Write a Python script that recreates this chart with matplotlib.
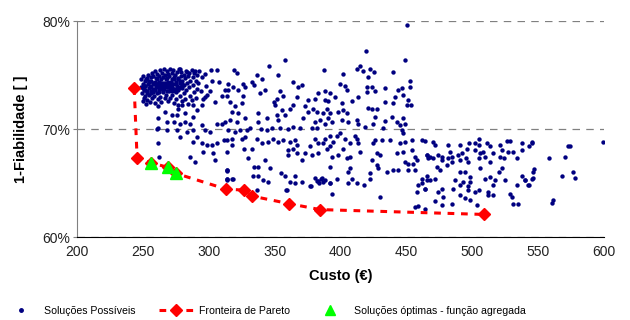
import numpy as np
import matplotlib
matplotlib.use("Agg")
from matplotlib import pyplot as plt
from matplotlib.lines import Line2D
from matplotlib.ticker import FuncFormatter

plt.rcParams['font.family'] = ['Liberation Sans', 'DejaVu Sans']

# Soluções possíveis (custo em €, 1-fiabilidade em %)
nucleo = [
    (249, 74.6), (249, 73.9), (249.5, 73.3), (250, 72.6), (250, 74.9), (250.5, 74.2), (251, 73.6), (251, 72.9),
    (251.5, 74.5), (252, 73.1), (252, 74.0), (252.5, 72.3), (253, 74.7), (253, 73.5), (253.5, 72.7), (254, 74.2),
    (254, 75.0), (254.5, 73.8), (255, 73.2), (255, 74.5), (255.5, 72.5), (256, 74.0), (256, 74.8), (256.5, 73.5),
    (257, 75.2), (257, 72.9), (257.5, 74.3), (258, 73.7), (258, 74.9), (258.5, 73.1), (259, 74.4), (259, 75.4),
    (259.5, 72.4), (260, 73.9), (260, 74.7), (260.5, 73.3), (261, 75.1), (261, 74.2), (261.5, 72.8), (262, 73.6),
    (262, 74.9), (262.5, 74.4), (263, 73.0), (263, 75.5), (263.5, 73.8), (264, 74.6), (264, 72.5), (264.5, 75.2),
    (265, 74.0), (265, 73.4), (265.5, 74.8), (266, 75.6), (266, 73.7), (266.5, 72.9), (267, 74.3), (267, 75.0),
    (267.5, 73.2), (268, 74.7), (268, 75.4), (268.5, 73.9), (269, 72.6), (269, 74.4), (269.5, 75.1), (270, 73.5),
    (270, 74.9), (270.5, 74.1), (271, 75.6), (271, 72.9), (271.5, 73.8), (272, 74.6), (272, 75.2), (272.5, 73.2),
    (273, 74.2), (273, 75.5), (273.5, 72.4), (274, 73.7), (274, 74.8), (274.5, 75.0), (275, 73.4), (275, 74.4),
    (275.5, 72.8), (276, 75.3), (276, 74.0), (276.5, 73.6), (277, 74.7), (277, 72.2), (277.5, 75.6), (278, 73.9),
    (278, 74.3), (278.5, 73.1), (279, 74.9), (279, 75.3), (279.5, 72.6), (280, 73.8), (280, 74.5), (281, 75.0),
    (281, 73.3), (281.5, 74.1), (282, 72.8), (282, 74.7), (283, 75.4), (283, 73.6), (283.5, 74.3), (284, 72.3),
    (284, 74.9), (285, 73.9), (285, 75.2), (286, 74.5), (286, 73.1), (287, 75.5), (287, 72.7), (288, 74.1),
    (288, 74.8), (289, 73.4), (289, 75.2), (290, 74.5), (290, 72.9), (291, 75.0), (291, 73.7), (292, 74.3),
    (293, 75.4), (294, 73.5), (295, 74.8), (296, 72.8), (297, 75.1), (298, 74.0), (299, 73.2),
    (250.5, 73.8), (251.5, 74.0), (252.5, 74.6), (253.5, 73.3), (254.5, 74.4), (255.5, 73.9), (256.5, 74.5),
    (257.5, 73.4), (258.5, 74.2), (259.5, 73.6), (260.5, 74.6), (261.5, 73.9), (262.5, 73.4), (263.5, 74.3),
    (264.5, 73.7), (265.5, 74.3), (266.5, 74.0), (267.5, 74.6), (268.5, 73.5), (269.5, 73.9), (270.5, 73.6),
    (271.5, 74.4), (272.5, 73.9), (273.5, 74.6), (274.5, 73.5), (275.5, 74.2), (276.5, 74.6), (277.5, 73.8),
    (278.5, 74.5), (279.5, 74.0), (252, 73.6), (256, 73.3), (260, 74.2), (264, 74.0), (268, 74.1), (272, 73.5),
    (276, 73.8), (280, 74.2), (262, 74.2), (270, 74.3),
]

zona_250_315 = [
    (278.2, 75.56), (283.3, 75.3), (289.6, 75.4), (301.7, 75.46), (306, 75.46), (302.7, 74.5), (307.8, 74.4),
    (312.3, 73.6), (309.8, 73.1), (304.7, 72.5), (301, 73.5), (297.2, 73.0), (294.6, 72.2), (290.8, 71.8),
    (288.3, 71.1), (261.7, 72.1), (266.8, 71.6), (261.7, 71.0), (271.9, 71.3), (275.6, 71.3), (282, 71.45),
    (273.9, 70.7), (278.2, 70.5), (285.8, 70.5), (261.7, 70.1), (268.1, 69.9), (275.6, 69.9), (283.3, 69.7),
    (278.2, 69.3), (288.3, 69.9), (290.8, 69.3), (288.3, 68.8), (294.6, 70.4), (297.2, 69.9), (294.6, 68.7),
    (298.4, 68.5), (295.9, 67.9), (302.2, 68.5), (306, 68.7), (303.4, 67.75), (304.7, 67.1), (261.7, 68.7),
    (262.2, 67.4), (285.8, 67.4), (289.6, 67.0), (301, 69.75), (306, 70.5), (309.8, 70.5), (312.3, 70.7),
    (311.8, 69.0), (313.6, 66.2), (313.6, 65.4), (268.1, 70.7), (276.9, 71.9), (279.5, 72.2), (288.3, 72.2),
    (282, 70.7), (260.9, 70.0), (314, 66.1), (318.2, 65.4), (313.6, 65.3),
]

zona_315_390 = [
    (357.9, 76.4), (345.7, 75.8), (319.4, 75.5), (321.7, 75.2), (336.4, 75.0), (352.8, 75.0), (387.5, 75.5),
    (340.6, 74.6), (332.6, 74.4), (364.2, 74.4), (371, 74.1), (368, 73.9), (334.6, 74.1), (327.5, 73.9),
    (342.7, 73.6), (338.9, 73.3), (354.1, 73.5), (351.6, 72.8), (356.6, 73.1), (366.7, 73.0), (375.5, 72.7),
    (383.1, 73.3), (388.2, 73.5), (380.6, 72.8), (388.2, 72.7), (364.2, 72.2), (373, 72.1), (361.7, 71.9),
    (355.4, 71.8), (350.3, 72.2), (349.5, 72.5), (337.6, 71.5), (344, 71.0), (351.6, 71.3), (352.8, 70.8),
    (357.9, 71.3), (379.4, 71.9), (381.9, 71.6), (386.9, 71.5), (389.5, 71.9), (375.1, 71.6), (371.8, 71.0),
    (380.6, 70.7), (384.4, 70.8), (388.2, 70.5), (378.1, 70.1), (381.9, 70.1), (369.3, 70.1), (364.2, 70.2),
    (360.4, 70.0), (354.1, 70.1), (347.8, 70.1), (344, 69.9), (339.7, 70.0), (331.3, 70.1), (328.8, 69.9),
    (337.6, 70.7), (327.5, 71.0), (322.4, 71.5), (317.4, 71.6), (319.9, 72.1), (316.1, 72.5), (325, 72.4),
    (326.2, 73.1), (313.6, 73.1), (314.8, 73.6), (322.4, 73.6), (318.6, 73.9), (326.2, 74.2), (314.8, 74.2),
    (316.1, 70.8), (321.2, 70.7), (314.8, 69.9), (319.9, 69.75), (323.7, 69.9), (317.4, 69.1), (325, 69.1),
    (327.5, 69.3), (313.6, 69.0), (317.4, 68.5), (313.6, 67.9), (327, 68.2), (336.4, 69.1), (340.2, 68.7),
    (332.6, 68.2), (345.2, 68.8), (349, 69.1), (352.8, 68.8), (356.6, 69.0), (361.7, 68.8), (365.5, 69.0),
    (366.7, 68.5), (360.4, 68.1), (364.2, 68.2), (366.7, 67.75), (360.4, 67.6), (373, 67.75), (376.8, 68.4),
    (383.1, 68.7), (386.9, 68.7), (380.6, 69.1), (388.2, 69.1), (378.1, 67.6), (383.1, 67.75), (370.5, 67.1),
    (330, 67.3), (342.7, 67.1), (337.6, 66.5), (334.6, 66.5), (346.5, 66.4), (333.8, 65.7), (337.6, 65.7),
    (354.8, 65.9), (357.9, 65.7), (365.5, 65.7), (341.4, 65.3), (345.2, 65.1), (361.7, 65.1), (365.5, 65.0),
    (370.5, 65.1), (376.8, 64.7), (359.2, 64.4), (336.4, 64.35), (313.6, 66.2), (317.4, 65.4), (313.6, 65.4),
    (381, 65.5), (383, 65.2), (385, 65.4), (387, 65.1), (384, 65.0), (382, 65.2), (386, 65.5), (388, 65.3),
    (392, 65.0), (377.3, 64.7), (358.6, 64.4),
]

zona_390_465 = [
    (450.2, 79.6), (419.1, 77.2), (449, 76.4), (412.3, 75.6), (414.8, 75.8), (422.4, 75.6), (425.7, 75.3),
    (421.1, 74.8), (416.8, 75.4), (402.1, 75.1), (440.1, 75.25), (452.8, 74.5), (399.6, 74.2), (403.4, 74.0),
    (404.7, 73.6), (419.9, 73.9), (423.7, 73.9), (433.8, 73.8), (443.3, 73.6), (446.9, 73.8), (452.8, 73.9),
    (447.2, 73.2), (426.2, 73.5), (419.9, 73.4), (392, 73.3), (395.8, 73.0), (413.5, 73.0), (441.4, 73.0),
    (451.5, 72.7), (390.7, 72.6), (408.5, 72.6), (433.8, 72.5), (440.1, 72.4), (450.2, 72.2), (453.5, 72.2),
    (400.9, 72.4), (421.1, 72.0), (423.7, 71.9), (427.5, 71.9), (398.3, 71.6), (402.1, 71.8), (404.7, 71.5),
    (392, 71.5), (390.7, 71.0), (426.2, 71.1), (438.9, 71.1), (447.7, 71.0), (400.9, 70.8), (405.9, 70.7),
    (412.3, 70.8), (413.5, 70.5), (393.3, 70.7), (433.8, 70.75), (442.6, 70.7), (445.2, 70.4), (449, 70.5),
    (424.9, 70.5), (418.6, 70.2), (432.5, 70.1), (446.4, 69.9), (447.7, 69.6), (399.6, 69.6), (397.1, 69.4),
    (392, 69.4), (411, 69.4), (412.3, 69.1), (403.4, 69.1), (394.5, 68.8), (407.2, 68.7), (413.5, 68.7),
    (426.2, 69.0), (424.9, 68.7), (431.2, 69.0), (437.6, 69.0), (445.2, 68.7), (449, 68.8), (454, 69.0),
    (461.6, 69.0), (464.1, 68.9), (392, 68.4), (389.5, 68.2), (402.1, 68.2), (414.8, 67.9), (427.5, 67.75),
    (430, 67.6), (442.6, 67.75), (447.7, 67.9), (454, 68.1), (456.5, 67.4), (457.8, 67.1), (465.3, 67.6),
    (466.6, 67.3), (393.3, 67.4), (398.3, 67.6), (404.7, 67.3), (407.2, 67.4), (423.7, 67.1), (427.5, 66.7),
    (428.8, 66.4), (449, 67.0), (451.5, 66.8), (455.3, 66.8), (443.9, 66.2), (440.1, 66.2), (435.1, 66.05),
    (392, 66.5), (407.2, 66.4), (405.9, 66.05), (422.4, 65.9), (451.5, 66.2), (456.5, 66.2), (461.6, 65.4),
    (465.3, 65.3), (397.1, 65.4), (408.5, 65.4), (422.4, 65.4), (405.9, 65.0), (412.3, 65.0), (418, 64.8),
    (392, 65.0), (459, 64.8), (461.6, 65.0), (464.1, 64.5), (457.8, 64.2), (393.3, 64.0), (430, 63.7),
    (456.5, 62.8), (459, 62.9), (464.1, 62.65),
]

zona_465_600 = [
    (470.4, 68.8), (471.7, 68.5), (465.3, 67.6), (467.9, 67.4), (470.4, 67.3), (474.2, 67.6), (476.8, 67.4),
    (476.8, 67.1), (473, 66.5), (475.5, 66.2), (465.3, 65.7), (467.9, 65.3), (471.7, 65.4), (464.1, 64.5),
    (474.2, 64.2), (476.8, 64.5), (478, 63.7), (471.7, 63.3), (476.8, 63.0), (481.8, 68.5), (483.1, 67.9),
    (484.4, 67.4), (481.8, 67.3), (484.4, 67.0), (480.6, 66.7), (490.7, 68.5), (489.4, 67.6), (490.7, 67.1),
    (491.9, 67.75), (495.7, 68.2), (495.2, 67.3), (497, 67.0), (497.8, 68.7), (502.1, 68.7), (502.1, 68.1),
    (504.7, 68.5), (505.4, 69.1), (505.9, 67.75), (504.7, 67.3), (508.4, 67.9), (511, 68.7), (513.5, 68.4),
    (509.7, 67.4), (516, 67.75), (513.5, 67.0), (521.1, 68.5), (522.4, 68.1), (521.1, 67.4), (523.7, 67.3),
    (526.2, 68.9), (528.7, 68.9), (527.4, 67.9), (531.1, 67.9), (533.7, 67.3), (537.5, 68.7), (537.5, 68.1),
    (542.6, 68.4), (494.5, 66.05), (490.7, 66.05), (498.3, 65.6), (493.2, 65.1), (498.3, 65.1), (497, 64.7),
    (497, 64.35), (490.7, 64.8), (486.9, 65.3), (485.6, 64.5), (490.7, 63.9), (494.5, 63.6), (498.3, 63.4),
    (484.4, 63.1), (502.1, 64.2), (504.7, 64.35), (503.4, 63.0), (509.7, 65.4), (513.5, 65.6), (512.2, 64.2),
    (512.2, 63.9), (516, 63.9), (516, 64.8), (517.3, 65.3), (519.9, 66.05), (522.4, 66.4), (524.9, 65.3),
    (528.7, 64.0), (530, 63.7), (531.1, 63.1), (534.9, 63.1), (533.7, 64.8), (537.5, 65.7), (540, 65.3),
    (542.6, 64.8), (505.9, 66.4), (545.6, 68.8), (545.1, 68.7), (572.9, 68.4), (574.2, 68.4), (599, 68.8),
    (558.3, 67.3), (570.4, 67.4), (547.1, 66.3), (546.3, 66.05), (576.7, 66.05), (567.7, 65.7), (578, 65.5),
    (546.3, 65.5), (545.1, 65.4), (540, 65.3), (542, 64.8), (561.5, 63.4), (560.2, 63.2),
]

# Fronteira de Pareto
pareto_custo = [243.5, 245.7, 255.9, 269.3, 275.1, 313.1, 326.8, 332.8, 360.9, 384.4, 509.1]
pareto_fiab = [73.8, 67.3, 66.9, 66.45, 65.9, 64.45, 64.35, 63.8, 63.1, 62.55, 62.1]

# Soluções óptimas - função agregada
agregada_custo = [255.9, 269.3, 275.1]
agregada_fiab = [66.9, 66.45, 65.9]

possiveis = np.array(nucleo + zona_250_315 + zona_315_390 + zona_390_465 + zona_465_600)

fig = plt.figure(figsize=(6.3, 3.2), dpi=100)
ax = fig.add_axes([0.122, 0.259, 0.837, 0.675])

ax.scatter(possiveis[:, 0], possiveis[:, 1], s=10, color='#000080', linewidths=0, zorder=2)
ax.plot(pareto_custo, pareto_fiab, color='#FF0000', linestyle=(0, (2.2, 2.2)), linewidth=2.2,
        marker='D', markersize=6.5, zorder=3)
ax.plot(agregada_custo, agregada_fiab, linestyle='none', marker='^', color='#00FF00',
        markersize=8, zorder=4)

ax.set_xlim(200, 600)
ax.set_ylim(60, 80)
ax.set_xticks(np.arange(200, 601, 50))
ax.set_yticks([60, 70, 80])
ax.yaxis.set_major_formatter(FuncFormatter(lambda v, p: '%d%%' % v))
ax.grid(axis='y', color='#808080', linestyle=(0, (6, 5)), linewidth=0.9)
ax.set_axisbelow(True)

for s in ['top', 'right']:
    ax.spines[s].set_visible(False)
ax.spines['left'].set_color('#808080')
ax.spines['bottom'].set_color('black')
ax.tick_params(axis='both', labelsize=10, colors='#222222', length=3)
ax.tick_params(axis='y', color='#808080', pad=2)
ax.tick_params(axis='x', length=0, pad=6)

ax.set_xlabel('Custo (€)', fontsize=10.5, fontweight='bold', labelpad=7)
ax.set_ylabel('1-Fiabilidade [ ]', fontsize=10.5, fontweight='bold', labelpad=10)

handles = [
    Line2D([], [], linestyle='none', marker='o', markersize=2.5, color='#000080'),
    Line2D([], [], color='#FF0000', linestyle=(0, (2.2, 2.2)), linewidth=2.2, marker='D', markersize=6),
    Line2D([], [], linestyle='none', marker='^', markersize=7, color='#00FF00'),
]
labels = ['Soluções Possíveis', 'Fronteira de Pareto', 'Soluções óptimas - função agregada']
fig.legend(handles, labels, loc='lower left', bbox_to_anchor=(0.0, 0.0), ncol=3,
           frameon=False, fontsize=7.6, handlelength=3.2, columnspacing=2.2, handletextpad=0.6,
           borderaxespad=0.2, borderpad=0.2)

fig.savefig('out.png', dpi=100)
